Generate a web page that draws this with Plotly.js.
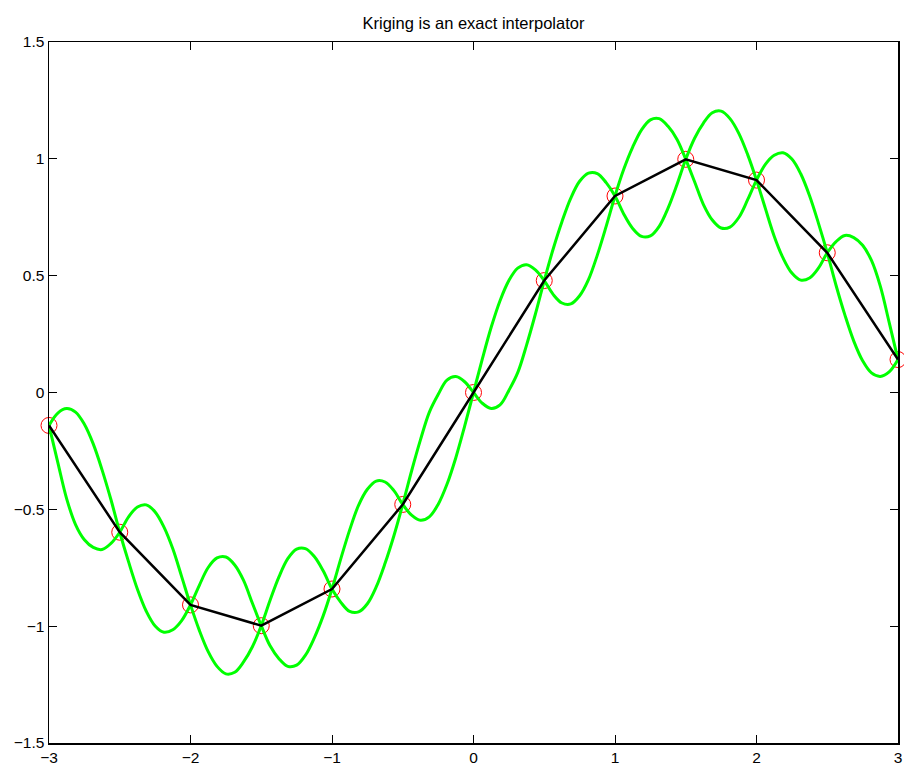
<!DOCTYPE html>
<html>
<head>
<meta charset="utf-8">
<script src="https://cdn.plot.ly/plotly-3.0.1.min.js"></script>
<style>
html,body{margin:0;padding:0;background:#fff;}
#chart{width:904px;height:765px;}
</style>
</head>
<body>
<div id="chart"></div>
<script>
// Observations
const knotX = [-3, -2.5, -2, -1.5, -1, -0.5, 0, 0.5, 1, 1.5, 2, 2.5, 3];
const knotY = [-0.141, -0.598, -0.909, -0.998, -0.841, -0.479, 0.000, 0.479, 0.841, 0.998, 0.909, 0.598, 0.141];

// Sample positions along the green curves
const curveX = [
  -3, -2.9375, -2.875, -2.8125, -2.75, -2.6875, -2.625, -2.5625,
  -2.5, -2.4375, -2.375, -2.3125, -2.25, -2.1875, -2.125, -2.0625,
  -2, -1.9375, -1.875, -1.8125, -1.75, -1.6875, -1.625, -1.5625,
  -1.5, -1.4375, -1.375, -1.3125, -1.25, -1.1875, -1.125, -1.0625,
  -1, -0.9375, -0.875, -0.8125, -0.75, -0.6875, -0.625, -0.5625,
  -0.5, -0.4375, -0.375, -0.3125, -0.25, -0.1875, -0.125, -0.0625,
  0, 0.0625, 0.125, 0.1875, 0.25, 0.3125, 0.375, 0.4375,
  0.5, 0.5625, 0.625, 0.6875, 0.75, 0.8125, 0.875, 0.9375,
  1, 1.0625, 1.125, 1.1875, 1.25, 1.3125, 1.375, 1.4375,
  1.5, 1.5625, 1.625, 1.6875, 1.75, 1.8125, 1.875, 1.9375,
  2, 2.0625, 2.125, 2.1875, 2.25, 2.3125, 2.375, 2.4375,
  2.5, 2.5625, 2.625, 2.6875, 2.75, 2.8125, 2.875, 2.9375, 3
];

// Green curve A (above the points on the first interval)
const curveAY = [
  -0.141, -0.088, -0.069, -0.084, -0.136, -0.220, -0.331, -0.458,
  -0.598, -0.725, -0.842, -0.936, -0.999, -1.026, -1.015, -0.976,
  -0.909, -0.825, -0.749, -0.708, -0.704, -0.738, -0.804, -0.902,
  -0.998, -1.084, -1.139, -1.172, -1.167, -1.124, -1.050, -0.956,
  -0.841, -0.711, -0.588, -0.483, -0.414, -0.379, -0.383, -0.420,
  -0.479, -0.525, -0.547, -0.532, -0.479, -0.393, -0.279, -0.144,
  0.000, 0.144, 0.279, 0.393, 0.479, 0.532, 0.547, 0.525,
  0.479, 0.420, 0.383, 0.379, 0.414, 0.483, 0.588, 0.711,
  0.841, 0.956, 1.050, 1.124, 1.167, 1.172, 1.139, 1.084,
  0.998, 0.902, 0.804, 0.738, 0.704, 0.708, 0.749, 0.825,
  0.909, 0.976, 1.015, 1.026, 0.999, 0.936, 0.842, 0.725,
  0.598, 0.458, 0.331, 0.220, 0.136, 0.084, 0.069, 0.088, 0.141
];

// Green curve B (below the points on the first interval)
const curveBY = [
  -0.141, -0.300, -0.455, -0.565, -0.630, -0.663, -0.672, -0.646,
  -0.598, -0.532, -0.490, -0.481, -0.511, -0.576, -0.669, -0.788,
  -0.909, -1.018, -1.109, -1.172, -1.204, -1.197, -1.153, -1.088,
  -0.998, -0.889, -0.789, -0.711, -0.670, -0.668, -0.702, -0.763,
  -0.841, -0.898, -0.937, -0.939, -0.904, -0.832, -0.731, -0.613,
  -0.479, -0.336, -0.203, -0.085, -0.009, 0.053, 0.068, 0.046,
  0.000, -0.046, -0.068, -0.053, 0.009, 0.085, 0.203, 0.336,
  0.479, 0.613, 0.731, 0.832, 0.904, 0.939, 0.937, 0.898,
  0.841, 0.763, 0.702, 0.668, 0.670, 0.711, 0.789, 0.889,
  0.998, 1.088, 1.153, 1.197, 1.204, 1.172, 1.109, 1.018,
  0.909, 0.788, 0.669, 0.576, 0.511, 0.481, 0.490, 0.532,
  0.598, 0.646, 0.672, 0.663, 0.630, 0.565, 0.455, 0.300, 0.141
];

const xTicks = [-3, -2, -1, 0, 1, 2, 3];
const xTickText = ['\u22123', '\u22122', '\u22121', '0', '1', '2', '3'];
const yTicks = [-1.5, -1, -0.5, 0, 0.5, 1, 1.5];
const yTickText = ['\u22121.5', '\u22121', '\u22120.5', '0', '0.5', '1', '1.5'];

const green = 'rgb(0,255,0)';

const traces = [
  {x: knotX, y: knotY, type: 'scatter', mode: 'markers',
   marker: {symbol: 'circle-open', size: 16, color: 'rgb(255,0,0)', line: {width: 1, color: 'rgb(255,0,0)'}},
   hoverinfo: 'skip', cliponaxis: false},
  {x: curveX, y: curveAY, type: 'scatter', mode: 'lines',
   line: {color: green, width: 3, shape: 'spline', smoothing: 1, simplify: false}, hoverinfo: 'skip'},
  {x: curveX, y: curveBY, type: 'scatter', mode: 'lines',
   line: {color: green, width: 3, shape: 'spline', smoothing: 1, simplify: false}, hoverinfo: 'skip'},
  {x: knotX, y: knotY, type: 'scatter', mode: 'lines',
   line: {color: 'black', width: 2.5, simplify: false}, hoverinfo: 'skip'}
];

const axisCommon = {
  showgrid: false, zeroline: false, showline: true, linecolor: 'black', linewidth: 1.5,
  mirror: 'allticks', ticks: 'inside', ticklen: 8, tickwidth: 1, tickcolor: 'black',
  tickfont: {family: 'Liberation Sans, Arial, sans-serif', size: 15.5, color: 'black'}
};

const layout = {
  width: 904, height: 765,
  margin: {l: 49, r: 6, t: 42, b: 22, pad: 0},
  paper_bgcolor: 'white', plot_bgcolor: 'white',
  showlegend: false,
  title: {text: 'Kriging is an exact interpolator',
          font: {family: 'Liberation Sans, Arial, sans-serif', size: 16.5, color: 'black'},
          x: 0.5, xref: 'paper', y: 0.97, yref: 'container', yanchor: 'middle'},
  xaxis: Object.assign({}, axisCommon, {range: [-3, 3], tickvals: xTicks, ticktext: xTickText}),
  yaxis: Object.assign({}, axisCommon, {range: [-1.5, 1.5], tickvals: yTicks, ticktext: yTickText})
};

Plotly.newPlot('chart', traces, layout, {displayModeBar: false, staticPlot: true});
</script>
</body>
</html>
